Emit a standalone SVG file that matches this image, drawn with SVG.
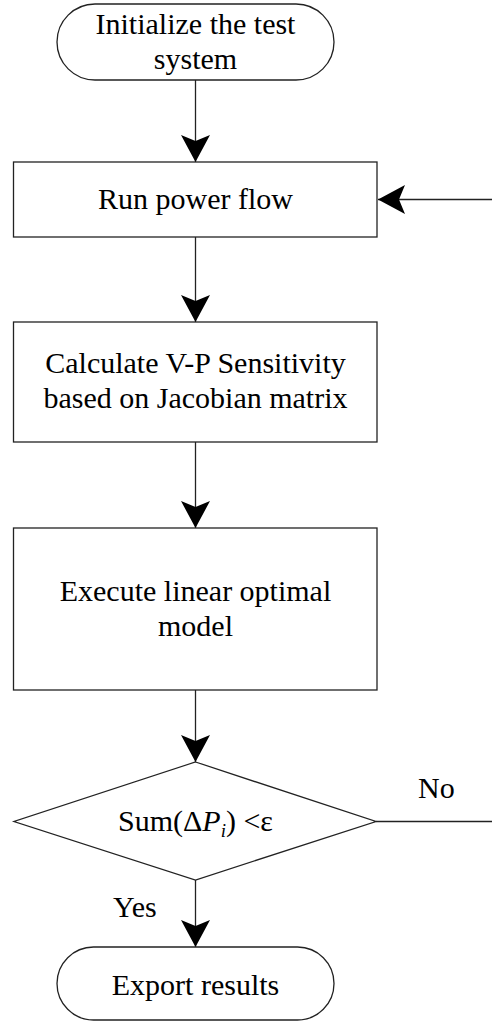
<svg xmlns="http://www.w3.org/2000/svg" width="492" height="1022" viewBox="0 0 492 1022">
  <style>
    .shape { fill: #ffffff; stroke: #222222; stroke-width: 1.3; }
    .edge { fill: none; stroke: #222222; stroke-width: 1.3; }
    .label { text-anchor: middle; }
  </style>
  <defs>
    <marker id="arrow" markerUnits="userSpaceOnUse" markerWidth="30" markerHeight="30" refX="27" refY="14.5" orient="auto">
      <path d="M0,0 L27,14.5 L0,29 L6,14.5 Z" fill="#000000"/>
    </marker>
  </defs>

  <rect width="492" height="1022" fill="#ffffff"/>

  <g font-family="Liberation Serif, Times New Roman, Tinos, DejaVu Serif, Noto Serif, serif" font-size="30" fill="#000000">
    <g id="connectors">
      <line class="edge" x1="195.5" y1="80" x2="195.5" y2="162" marker-end="url(#arrow)"/>
      <line class="edge" x1="492" y1="199.5" x2="378" y2="199.5" marker-end="url(#arrow)"/>
      <line class="edge" x1="195.5" y1="237" x2="195.5" y2="322" marker-end="url(#arrow)"/>
      <line class="edge" x1="195.5" y1="442" x2="195.5" y2="528" marker-end="url(#arrow)"/>
      <line class="edge" x1="195.5" y1="690" x2="195.5" y2="762" marker-end="url(#arrow)"/>
      <line class="edge" x1="195.5" y1="880" x2="195.5" y2="947" marker-end="url(#arrow)"/>
      <line class="edge" x1="376" y1="821.5" x2="492" y2="821.5"/>
      <text x="418" y="798">No</text>
      <text x="113" y="917">Yes</text>
    </g>

    <g id="init">
      <rect class="shape" x="57" y="4" width="277" height="76" rx="38" ry="38"/>
      <text class="label" x="195.5" y="34">Initialize the test</text>
      <text class="label" x="195.5" y="69">system</text>
    </g>

    <g id="power-flow">
      <rect class="shape" x="13.5" y="162" width="363.5" height="75"/>
      <text class="label" x="195.5" y="209">Run power flow</text>
    </g>

    <g id="sensitivity">
      <rect class="shape" x="13.5" y="322" width="363.5" height="120"/>
      <text class="label" x="195.5" y="373">Calculate V-P Sensitivity</text>
      <text class="label" x="195.5" y="408">based on Jacobian matrix</text>
    </g>

    <g id="optimal-model">
      <rect class="shape" x="13.5" y="528" width="363.5" height="162"/>
      <text class="label" x="195.5" y="601">Execute linear optimal</text>
      <text class="label" x="195.5" y="636">model</text>
    </g>

    <g id="check">
      <polygon class="shape" points="195.5,762 376,821.5 195.5,880 14,821.5"/>
      <text class="label" x="195.5" y="831">Sum(Δ<tspan font-style="italic">P</tspan><tspan font-style="italic" font-size="19" dy="6">i</tspan><tspan dy="-6">) &lt;ε</tspan></text>
    </g>

    <g id="export">
      <rect class="shape" x="57" y="947" width="277" height="73" rx="36.5" ry="36.5"/>
      <text class="label" x="195.5" y="995">Export results</text>
    </g>
  </g>
</svg>
